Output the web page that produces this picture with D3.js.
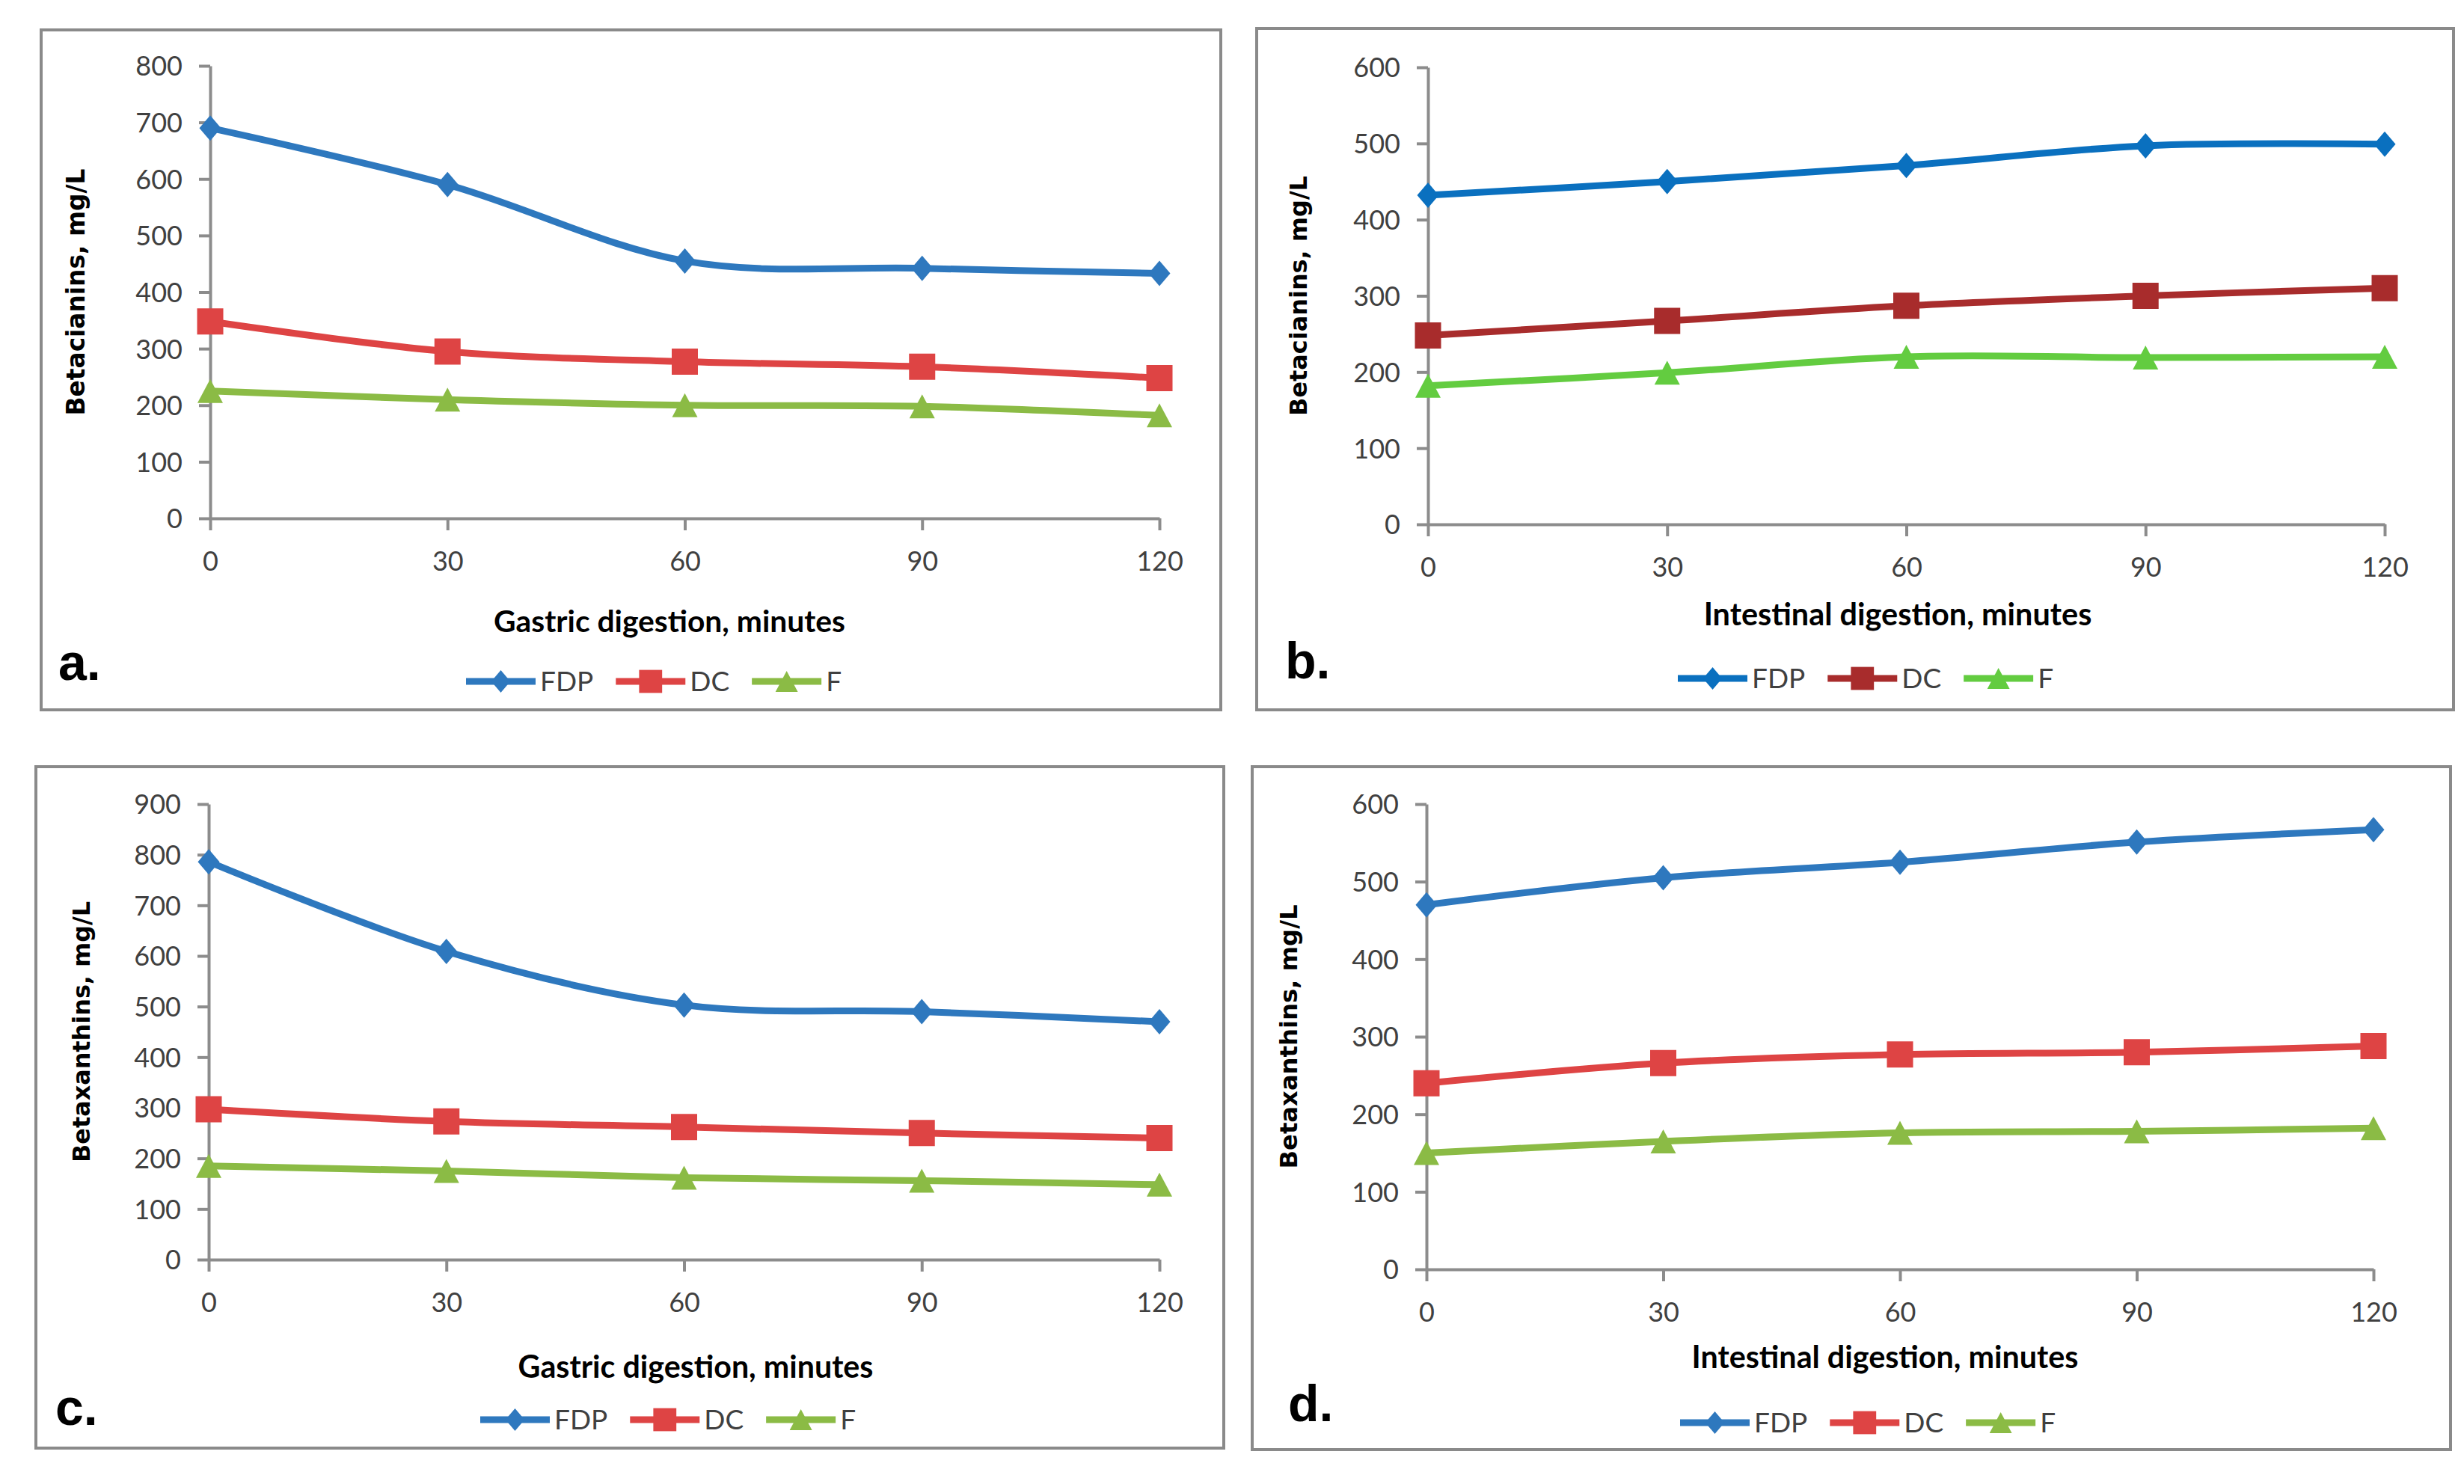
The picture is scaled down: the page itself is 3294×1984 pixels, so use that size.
<!DOCTYPE html>
<html>
<head>
<meta charset="utf-8">
<script src="https://cdn.jsdelivr.net/npm/d3@7"></script>
<style>
html,body{margin:0;padding:0;background:#fff;}
svg{display:block;}
</style>
</head>
<body>
<svg id="chart" width="3294" height="1984"></svg>
<script>
// ---------- DATA ----------
const minutes = [0, 30, 60, 90, 120];
const seriesNames = ["FDP", "DC", "F"];

// a. Betacianins, gastric digestion
const aFDP = [690, 590, 455, 442, 433];
const aDC  = [348, 295, 277, 268, 248];
const aF   = [225, 210, 200, 198, 182];
// b. Betacianins, intestinal digestion
const bFDP = [432, 450, 471, 497, 499];
const bDC  = [248, 267, 287, 300, 310];
const bF   = [182, 199, 220, 219, 220];
// c. Betaxanthins, gastric digestion
const cFDP = [786, 609, 503, 490, 470];
const cDC  = [297, 273, 262, 250, 240];
const cF   = [185, 175, 162, 156, 148];
// d. Betaxanthins, intestinal digestion
const dFDP = [470, 505, 525, 551, 567];
const dDC  = [240, 266, 277, 280, 288];
const dF   = [150, 165, 176, 178, 182];

const yTicksA = [0, 100, 200, 300, 400, 500, 600, 700, 800];
const yTicksB = [0, 100, 200, 300, 400, 500, 600];
const yTicksC = [0, 100, 200, 300, 400, 500, 600, 700, 800, 900];
const yTicksD = [0, 100, 200, 300, 400, 500, 600];

const yTitleCyanins = "Betacianins, mg/L";
const yTitleXanthins = "Betaxanthins, mg/L";
const xTitleGastric = "Gastric digestion, minutes";
const xTitleIntestinal = "Intestinal digestion, minutes";

// ---------- STYLE ----------
const palette1 = {FDP: "#2E78BE", DC: "#DE4444", F: "#8BBB45"};
const palette2 = {FDP: "#0A70BF", DC: "#A82C2C", F: "#63CC40"};
const AXIS = "#8C8C8C";
const TXT = "#404040";
const NUMFONT = "Lato, 'Liberation Sans', sans-serif";

const panels = [
  {letter: "a.", border: [55, 40, 1632, 949], x0: 281, x1: 1550, yTop: 88, yBot: 693, yTicks: yTicksA,
   yTitle: yTitleCyanins, yTitleX: 101, yTitleLen: 330, xTitle: xTitleGastric, xTitleX: 895, xTitleY: 830, xTitleW: 470,
   letterX: 78, letterY: 909, legendX: 623, legendY: 911, pal: palette1, data: [aFDP, aDC, aF]},
  {letter: "b.", border: [1680, 38, 3280, 949], x0: 1909, x1: 3188, yTop: 90, yBot: 701, yTicks: yTicksB,
   yTitle: yTitleCyanins, yTitleX: 1735, yTitleLen: 321, xTitle: xTitleIntestinal, xTitleX: 2537, xTitleY: 821, xTitleW: 519,
   letterX: 1718, letterY: 907, legendX: 2243, legendY: 907, pal: palette2, data: [bFDP, bDC, bF]},
  {letter: "c.", border: [48, 1025, 1636, 1936], x0: 279, x1: 1550, yTop: 1075, yBot: 1684, yTicks: yTicksC,
   yTitle: yTitleXanthins, yTitleX: 109, yTitleLen: 349, xTitle: xTitleGastric, xTitleX: 930, xTitleY: 1827, xTitleW: 475,
   letterX: 74, letterY: 1905, legendX: 642, legendY: 1898, pal: palette1, data: [cFDP, cDC, cF]},
  {letter: "d.", border: [1674, 1025, 3276, 1938], x0: 1907, x1: 3173, yTop: 1075, yBot: 1697, yTicks: yTicksD,
   yTitle: yTitleXanthins, yTitleX: 1722, yTitleLen: 353, xTitle: xTitleIntestinal, xTitleX: 2520, xTitleY: 1814, xTitleW: 517,
   letterX: 1722, letterY: 1900, legendX: 2246, legendY: 1902, pal: palette1, data: [dFDP, dDC, dF]}
];

const svg = d3.select("#chart");
svg.append("rect").attr("width", 3294).attr("height", 1984).attr("fill", "#fff");

function markerPath(name, big) {
  const k = big ? 1 : 0.88;
  if (name === "FDP") { const w = 14.5 * k, h = 17 * k; return `M0,${-h}L${w},0L0,${h}L${-w},0Z`; }
  if (name === "DC") { const s = 17.5 * k; return `M${-s},${-s}H${s}V${s}H${-s}Z`; }
  const w = 17 * k, h = 16 * k; return `M0,${-h}L${w},${h}L${-w},${h}Z`;
}

function fit(sel, target) {
  const n = sel.node();
  const w = n.getComputedTextLength();
  const fs = parseFloat(sel.attr("font-size"));
  if (w > 0) sel.attr("font-size", fs * target / w);
}

panels.forEach(p => {
  const g = svg.append("g");
  const [bx0, by0, bx1, by1] = p.border;
  g.append("rect").attr("x", bx0).attr("y", by0).attr("width", bx1 - bx0).attr("height", by1 - by0)
    .attr("fill", "none").attr("stroke", "#8A8A8A").attr("stroke-width", 4);

  const yMax = d3.max(p.yTicks);
  const x = d3.scaleLinear().domain([0, 120]).range([p.x0, p.x1]);
  const y = d3.scaleLinear().domain([0, yMax]).range([p.yBot, p.yTop]);

  // y axis
  const ya = g.append("g").attr("transform", `translate(${p.x0},0)`)
    .call(d3.axisLeft(y).tickValues(p.yTicks).tickSize(15).tickSizeOuter(0).tickPadding(22).tickFormat(d3.format("d")));
  // x axis
  const xa = g.append("g").attr("transform", `translate(0,${p.yBot})`)
    .call(d3.axisBottom(x).tickValues(minutes).tickSize(16).tickSizeOuter(0).tickFormat(d3.format("d")));
  [ya, xa].forEach(a => {
    a.select(".domain").attr("stroke", AXIS).attr("stroke-width", 4);
    a.selectAll(".tick line").attr("stroke", AXIS).attr("stroke-width", 4);
    a.selectAll(".tick text").attr("fill", TXT).attr("font-family", NUMFONT).attr("font-size", 36);
  });
  ya.selectAll(".tick text").attr("dy", "0.36em");
  xa.selectAll(".tick text").attr("y", 57).attr("dy", "0.36em");

  // titles
  const yt = g.append("text").attr("font-family", "'DejaVu Sans', Verdana, sans-serif").attr("font-weight", "bold")
    .attr("font-size", 31).attr("fill", "#000").attr("text-anchor", "middle")
    .attr("transform", `translate(${p.yTitleX},${(p.yTop + p.yBot) / 2}) rotate(-90)`).attr("dy", "0.36em")
    .text(p.yTitle);
  fit(yt, p.yTitleLen);
  const xt = g.append("text").attr("font-family", NUMFONT).attr("font-weight", "bold")
    .attr("font-size", 36).attr("fill", "#000").attr("text-anchor", "middle")
    .attr("x", p.xTitleX).attr("y", p.xTitleY).attr("dy", "0.36em").text(p.xTitle);
  fit(xt, p.xTitleW);

  g.append("text").attr("font-family", "'Liberation Sans', Arial, sans-serif").attr("font-weight", "bold")
    .attr("font-size", 68).attr("fill", "#000").attr("x", p.letterX).attr("y", p.letterY).text(p.letter);

  // lines
  const line = d3.line().x((d, i) => x(minutes[i])).y(d => y(d)).curve(d3.curveCardinal.tension(0));
  seriesNames.forEach((s, si) => {
    g.append("path").datum(p.data[si]).attr("d", line).attr("fill", "none")
      .attr("stroke", p.pal[s]).attr("stroke-width", 9).attr("stroke-linejoin", "round").attr("stroke-linecap", "round");
  });
  seriesNames.forEach((s, si) => {
    g.selectAll(null).data(p.data[si]).enter().append("path")
      .attr("transform", (d, i) => `translate(${x(minutes[i])},${y(d)})`)
      .attr("d", markerPath(s, true)).attr("fill", p.pal[s]);
  });

  // legend
  let lx = p.legendX;
  seriesNames.forEach(s => {
    g.append("line").attr("x1", lx).attr("x2", lx + 93).attr("y1", p.legendY).attr("y2", p.legendY)
      .attr("stroke", p.pal[s]).attr("stroke-width", 9);
    g.append("path").attr("transform", `translate(${lx + 46.5},${p.legendY})`).attr("d", markerPath(s, false)).attr("fill", p.pal[s]);
    const t = g.append("text").attr("x", lx + 99).attr("y", p.legendY).attr("dy", "0.36em")
      .attr("font-family", NUMFONT).attr("font-size", 37).attr("fill", TXT).text(s);
    lx = lx + 99 + t.node().getComputedTextLength() + 30;
  });
});
</script>
</body>
</html>
